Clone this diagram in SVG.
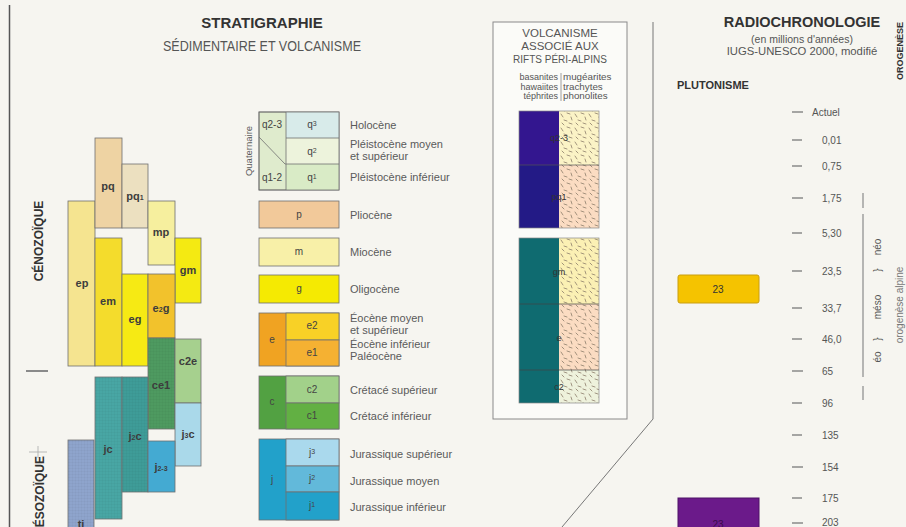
<svg xmlns="http://www.w3.org/2000/svg" width="906" height="527" viewBox="0 0 906 527">
<defs>
<style>
.t{font-family:"Liberation Sans",Arial,sans-serif;fill:#5a5a5a}
.h{font-family:"Liberation Sans",Arial,sans-serif;fill:#333;font-weight:bold}
.s{font-family:"Liberation Sans",Arial,sans-serif;fill:#555}
.bl{font-family:"Liberation Sans",Arial,sans-serif;fill:#3d3d3d;font-size:11px;font-weight:bold;text-anchor:middle}
.ll{font-family:"Liberation Sans",Arial,sans-serif;fill:#444;font-size:10px;text-anchor:middle}
.blk{stroke:#6f6f6f;stroke-width:0.8}
.tk{stroke:#8a8a8a;stroke-width:1.5}
.vl{font-family:"Liberation Sans",Arial,sans-serif;fill:#333;font-size:9px;text-anchor:middle}
</style>
<pattern id="dash" width="14" height="14" patternUnits="userSpaceOnUse">
<g stroke="#8c7c6a" stroke-width="0.8" stroke-linecap="round">
<line x1="1" y1="2" x2="3" y2="5"/>
<line x1="7" y1="1" x2="10" y2="2"/>
<line x1="11" y1="5" x2="12" y2="8"/>
<line x1="4" y1="8" x2="7" y2="9"/>
<line x1="2" y1="11" x2="4" y2="13"/>
<line x1="9" y1="11" x2="12" y2="12"/>
</g>
</pattern>
<pattern id="grid" width="3" height="3" patternUnits="userSpaceOnUse">
<path d="M0 0H3M0 0V3" stroke="#000" stroke-opacity="0.08" stroke-width="0.6" fill="none"/>
</pattern>
</defs>
<rect width="906" height="527" fill="#f6f5f0"/>

<g id="connectors" fill="none">
<line x1="9.5" y1="5" x2="9.5" y2="527" stroke="#555" stroke-width="1.5"/>
<path d="M653 22V419L562 527" stroke="#777" stroke-width="1"/>
</g>

<g id="titles">
<text class="h" x="262" y="28" font-size="15" text-anchor="middle">STRATIGRAPHIE</text>
<text class="s" x="163" y="51" font-size="14" textLength="198" lengthAdjust="spacingAndGlyphs" fill="#444">SÉDIMENTAIRE ET VOLCANISME</text>
<text class="h" font-size="9" text-anchor="middle" transform="translate(903,51) rotate(-90)">OROGENÈSE</text>
</g>

<g id="eras">
<text class="h" font-size="12" text-anchor="middle" transform="translate(43,241) rotate(-90)">CÉNOZOÏQUE</text>
<line x1="26" y1="371" x2="48" y2="371" stroke="#8a8a8a" stroke-width="2"/>
<line x1="29" y1="452" x2="47" y2="452" stroke="#aaa" stroke-width="0.8"/>
<line x1="38" y1="446" x2="38" y2="458" stroke="#aaa" stroke-width="0.8"/>
<text class="h" font-size="12" text-anchor="end" transform="translate(44,456) rotate(-90)">MÉSOZOÏQUE</text>
</g>

<g id="strat-column">
<g id="blk-tj"><rect class="blk" x="68" y="440" width="26" height="95" fill="#8ea4cc"/><rect x="68" y="440" width="26" height="95" fill="url(#grid)"/><text class="bl" x="81" y="528">tj</text></g>
<g id="blk-ep"><rect class="blk" x="68" y="201" width="27" height="165" fill="#f5e490"/><text class="bl" x="82" y="287">ep</text></g>
<g id="blk-pq"><rect class="blk" x="95" y="138" width="27" height="90" fill="#eed3a3"/><text class="bl" x="108" y="190">pq</text></g>
<g id="blk-pq1"><rect class="blk" x="122" y="164" width="26" height="64" fill="#ece0c0"/><text class="bl" x="135" y="200">pq<tspan font-size="7">1</tspan></text></g>
<g id="blk-mp"><rect class="blk" x="148" y="201" width="27" height="64" fill="#f6ef9e"/><text class="bl" x="161" y="236">mp</text></g>
<g id="blk-gm"><rect class="blk" x="175" y="238" width="26" height="65" fill="#f4ea12"/><text class="bl" x="188" y="274">gm</text></g>
<g id="blk-em"><rect class="blk" x="95" y="238" width="27" height="128" fill="#f4dc2c"/><text class="bl" x="108" y="305">em</text></g>
<g id="blk-eg"><rect class="blk" x="122" y="274" width="26" height="92" fill="#f6ea14"/><text class="bl" x="135" y="323">eg</text></g>
<g id="blk-e2g"><rect class="blk" x="148" y="274" width="27" height="64" fill="#f2c22c"/><text class="bl" x="161" y="312">e<tspan font-size="7">2</tspan>g</text></g>
<g id="blk-ce1"><rect class="blk" x="148" y="338" width="27" height="91" fill="#4e9a60"/><rect x="148" y="338" width="27" height="91" fill="url(#grid)"/><text class="bl" x="161" y="389">ce1</text></g>
<g id="blk-c2e"><rect class="blk" x="175" y="339" width="26" height="64" fill="#a6d08e"/><text class="bl" x="188" y="365">c2e</text></g>
<g id="blk-j3c"><rect class="blk" x="175" y="403" width="26" height="63" fill="#aad9ea"/><text class="bl" x="188" y="438">j<tspan font-size="7">3</tspan>c</text></g>
<g id="blk-jc"><rect class="blk" x="95" y="377" width="27" height="142" fill="#48a6a4"/><rect x="95" y="377" width="27" height="142" fill="url(#grid)"/><text class="bl" x="108" y="453">jc</text></g>
<g id="blk-j2c"><rect class="blk" x="122" y="377" width="26" height="115" fill="#3e9c98"/><rect x="122" y="377" width="26" height="115" fill="url(#grid)"/><text class="bl" x="135" y="440">j<tspan font-size="7">2</tspan>c</text></g>
<g id="blk-j23"><rect class="blk" x="148" y="441" width="27" height="51" fill="#44aad2"/><text class="bl" x="161" y="471">j<tspan font-size="7">2-3</tspan></text></g>
</g>

<g id="legend" font-size="11">
<g id="leg-q">
<text class="t" font-size="9.5" text-anchor="middle" transform="translate(252,151) rotate(-90)">Quaternaire</text>
<rect x="259" y="112" width="80" height="78" fill="#dfebcd" class="blk"/>
<rect x="286" y="112" width="53" height="26" fill="#d8ebea"/>
<rect x="286" y="138" width="53" height="26" fill="#edf3dc"/>
<rect x="286" y="164" width="53" height="26" fill="#d9ebc6"/>
<g stroke="#6f6f6f" stroke-width="0.8" fill="none">
<rect x="259" y="112" width="80" height="78"/>
<line x1="286" y1="112" x2="286" y2="190"/>
<line x1="286" y1="138" x2="339" y2="138"/>
<line x1="259" y1="137" x2="285" y2="164"/>
<line x1="285" y1="164" x2="339" y2="164"/>
</g>
<text class="ll" x="272" y="128">q2-3</text>
<text class="ll" x="312" y="128">q<tspan font-size="7" dy="-2">3</tspan></text>
<text class="ll" x="312" y="155">q<tspan font-size="7" dy="-2">2</tspan></text>
<text class="ll" x="272" y="181">q1-2</text>
<text class="ll" x="312" y="181">q<tspan font-size="7" dy="-2">1</tspan></text>
<text class="t" x="350" y="129">Holocène</text>
<text class="t" x="350" y="148">Pléistocène moyen</text>
<text class="t" x="350" y="160">et supérieur</text>
<text class="t" x="350" y="181">Pléistocène inférieur</text>
</g>
<g id="leg-p"><rect class="blk" x="259" y="201" width="80" height="27" fill="#f2c99a"/><text class="ll" x="299" y="218">p</text><text class="t" x="350" y="219">Pliocène</text></g>
<g id="leg-m"><rect class="blk" x="259" y="238" width="80" height="28" fill="#f8f0a8"/><text class="ll" x="299" y="255">m</text><text class="t" x="350" y="256">Miocène</text></g>
<g id="leg-g"><rect class="blk" x="259" y="275" width="80" height="28" fill="#f5ea02"/><text class="ll" x="299" y="292">g</text><text class="t" x="350" y="293">Oligocène</text></g>
<g id="leg-e">
<rect class="blk" x="259" y="313" width="80" height="53" fill="#f0a322"/>
<rect class="blk" x="286" y="313" width="53" height="27" fill="#f8d126"/>
<rect class="blk" x="286" y="340" width="53" height="26" fill="#f5b132"/>
<text class="ll" x="272" y="343">e</text><text class="ll" x="312" y="329">e2</text><text class="ll" x="312" y="356">e1</text>
<text class="t" x="350" y="322">Éocène moyen</text>
<text class="t" x="350" y="334">et supérieur</text>
<text class="t" x="350" y="348">Éocène inférieur</text>
<text class="t" x="350" y="360">Paléocène</text>
</g>
<g id="leg-c">
<rect class="blk" x="259" y="376" width="80" height="53" fill="#52a142"/>
<rect class="blk" x="286" y="376" width="53" height="27" fill="#a2d18a"/>
<rect class="blk" x="286" y="403" width="53" height="26" fill="#62b043"/>
<text class="ll" x="272" y="405">c</text><text class="ll" x="312" y="393">c2</text><text class="ll" x="312" y="419">c1</text>
<text class="t" x="350" y="394">Crétacé supérieur</text>
<text class="t" x="350" y="420">Crétacé inférieur</text>
</g>
<g id="leg-j">
<rect class="blk" x="259" y="439" width="80" height="81" fill="#22a1ca"/>
<rect class="blk" x="286" y="439" width="53" height="27" fill="#aad9ed"/>
<rect class="blk" x="286" y="466" width="53" height="26" fill="#62b9da"/>
<rect class="blk" x="286" y="492" width="53" height="28" fill="#22a1ca"/>
<text class="ll" x="272" y="483">j</text>
<text class="ll" x="312" y="456">j<tspan font-size="7" dy="-2">3</tspan></text>
<text class="ll" x="312" y="482">j<tspan font-size="7" dy="-2">2</tspan></text>
<text class="ll" x="312" y="509">j<tspan font-size="7" dy="-2">1</tspan></text>
<text class="t" x="350" y="458">Jurassique supérieur</text>
<text class="t" x="350" y="485">Jurassique moyen</text>
<text class="t" x="350" y="511">Jurassique inférieur</text>
</g>
</g>

<g id="volcanism">
<rect x="493" y="22" width="134" height="397" fill="#fbfbf8" stroke="#8a8a8a" stroke-width="1"/>
<text class="s" x="560" y="37" font-size="11.5" text-anchor="middle" fill="#444">VOLCANISME</text>
<text class="s" x="560" y="50" font-size="11.5" text-anchor="middle" fill="#444">ASSOCIÉ AUX</text>
<text class="s" x="560" y="63" font-size="10" text-anchor="middle" fill="#444">RIFTS PÉRI-ALPINS</text>
<text class="s" x="558" y="80" font-size="9" text-anchor="end" fill="#444">basanites</text>
<text class="s" x="558" y="89.5" font-size="9" text-anchor="end" fill="#444">hawaiites</text>
<text class="s" x="558" y="99" font-size="9" text-anchor="end" fill="#444">téphrites</text>
<line x1="561" y1="73" x2="561" y2="101" stroke="#888" stroke-width="0.8"/>
<text class="s" x="563" y="80" font-size="9.8" fill="#444">mugéarites</text>
<text class="s" x="563" y="89.5" font-size="9.8" fill="#444">trachytes</text>
<text class="s" x="563" y="99" font-size="9.8" fill="#444">phonolites</text>
<g id="v-q23"><rect x="519" y="111" width="40" height="54" fill="#33168f"/><rect x="559" y="111" width="40" height="54" fill="#fbf3c6"/><rect x="559" y="111" width="40" height="54" fill="url(#dash)"/><text class="vl" x="559" y="141">q2-3</text></g>
<g id="v-pq1"><rect x="519" y="165" width="40" height="63" fill="#231a86"/><rect x="559" y="165" width="40" height="63" fill="#fbdcc2"/><rect x="559" y="165" width="40" height="63" fill="url(#dash)"/><text class="vl" x="559" y="200">pq1</text></g>
<line x1="519" y1="165" x2="599" y2="165" stroke="#555" stroke-width="0.7"/>
<rect x="519" y="111" width="80" height="117" fill="none" stroke="#888" stroke-width="0.7"/>
<g id="v-gm"><rect x="519" y="238" width="40" height="66" fill="#0f6b70"/><rect x="559" y="238" width="40" height="66" fill="#fbf0b4"/><rect x="559" y="238" width="40" height="66" fill="url(#dash)"/><text class="vl" x="559" y="275">gm</text></g>
<g id="v-e"><rect x="519" y="304" width="40" height="66" fill="#0f6b70"/><rect x="559" y="304" width="40" height="66" fill="#fbdcc2"/><rect x="559" y="304" width="40" height="66" fill="url(#dash)"/><text class="vl" x="559" y="341">e</text></g>
<g id="v-c2"><rect x="519" y="370" width="40" height="33" fill="#0f6b70"/><rect x="559" y="370" width="40" height="33" fill="#eef2dc"/><rect x="559" y="370" width="40" height="33" fill="url(#dash)"/><text class="vl" x="559" y="390">c2</text></g>
<g stroke="#444" stroke-width="0.7"><line x1="519" y1="304" x2="599" y2="304"/><line x1="519" y1="370" x2="599" y2="370"/></g>
<rect x="519" y="238" width="80" height="165" fill="none" stroke="#888" stroke-width="0.7"/>
</g>

<g id="radiochronologie">
<text class="h" x="802" y="27" font-size="14.5" text-anchor="middle">RADIOCHRONOLOGIE</text>
<text class="s" x="802" y="43" font-size="10.5" text-anchor="middle">(en millions d'années)</text>
<text class="s" x="802" y="55" font-size="11.3" text-anchor="middle">IUGS-UNESCO 2000, modifié</text>
<text class="h" x="677" y="89" font-size="11" fill="#444">PLUTONISME</text>
<g id="ticks">
<line class="tk" x1="792" y1="112" x2="803" y2="112" stroke="#555"/>
<line class="tk" x1="792" y1="140" x2="802" y2="140"/>
<line class="tk" x1="792" y1="166" x2="802" y2="166"/>
<line class="tk" x1="792" y1="198" x2="803" y2="198" stroke="#555"/>
<line class="tk" x1="792" y1="233" x2="802" y2="233"/>
<line class="tk" x1="792" y1="271" x2="802" y2="271"/>
<line class="tk" x1="792" y1="308" x2="802" y2="308"/>
<line class="tk" x1="792" y1="339" x2="802" y2="339"/>
<line class="tk" x1="792" y1="371" x2="803" y2="371" stroke="#555"/>
<line class="tk" x1="792" y1="403" x2="802" y2="403"/>
<line class="tk" x1="792" y1="435" x2="802" y2="435"/>
<line class="tk" x1="792" y1="467" x2="803" y2="467" stroke="#555"/>
<line class="tk" x1="792" y1="498" x2="802" y2="498"/>
<line class="tk" x1="792" y1="523" x2="803" y2="523" stroke="#555"/>
</g>
<g class="s" font-size="10">
<text x="812" y="116">Actuel</text>
<text x="822" y="144">0,01</text>
<text x="822" y="170">0,75</text>
<text x="822" y="202">1,75</text>
<text x="822" y="237">5,30</text>
<text x="822" y="275">23,5</text>
<text x="822" y="312">33,7</text>
<text x="822" y="343">46,0</text>
<text x="822" y="375">65</text>
<text x="822" y="407">96</text>
<text x="822" y="439">135</text>
<text x="822" y="471">154</text>
<text x="822" y="502">175</text>
<text x="822" y="526">203</text>
</g>
<g id="pluton-23"><rect x="678" y="275" width="81" height="28" rx="2" fill="#f5c300" stroke="#c99e10" stroke-width="1"/><text x="718" y="293" font-family="Liberation Sans, Arial, sans-serif" font-size="10" fill="#333" text-anchor="middle">23</text></g>
<g id="pluton-purple"><rect x="678" y="498" width="81" height="40" fill="#6b1a8a" stroke="#4e1266" stroke-width="1"/><text x="718" y="528" font-family="Liberation Sans, Arial, sans-serif" font-size="10" fill="#3a0c4a" text-anchor="middle">23</text></g>
</g>

<g id="orogenese">
<g stroke="#8a8a8a" stroke-width="1.2">
<line x1="863" y1="193" x2="863" y2="208"/>
<line x1="863" y1="214" x2="863" y2="377"/>
<line x1="863" y1="386" x2="863" y2="400"/>
</g>
<g class="s" font-size="10">
<text text-anchor="middle" transform="translate(881,247) rotate(-90)">néo</text>
<text text-anchor="middle" transform="translate(881,270) rotate(-90)">}</text>
<text text-anchor="middle" transform="translate(881,307) rotate(-90)">méso</text>
<text text-anchor="middle" transform="translate(881,339) rotate(-90)">}</text>
<text text-anchor="middle" transform="translate(881,357) rotate(-90)">éo</text>
<text text-anchor="middle" fill="#777" transform="translate(903,305) rotate(-90)">orogenèse alpine</text>
</g>
</g>
</svg>
